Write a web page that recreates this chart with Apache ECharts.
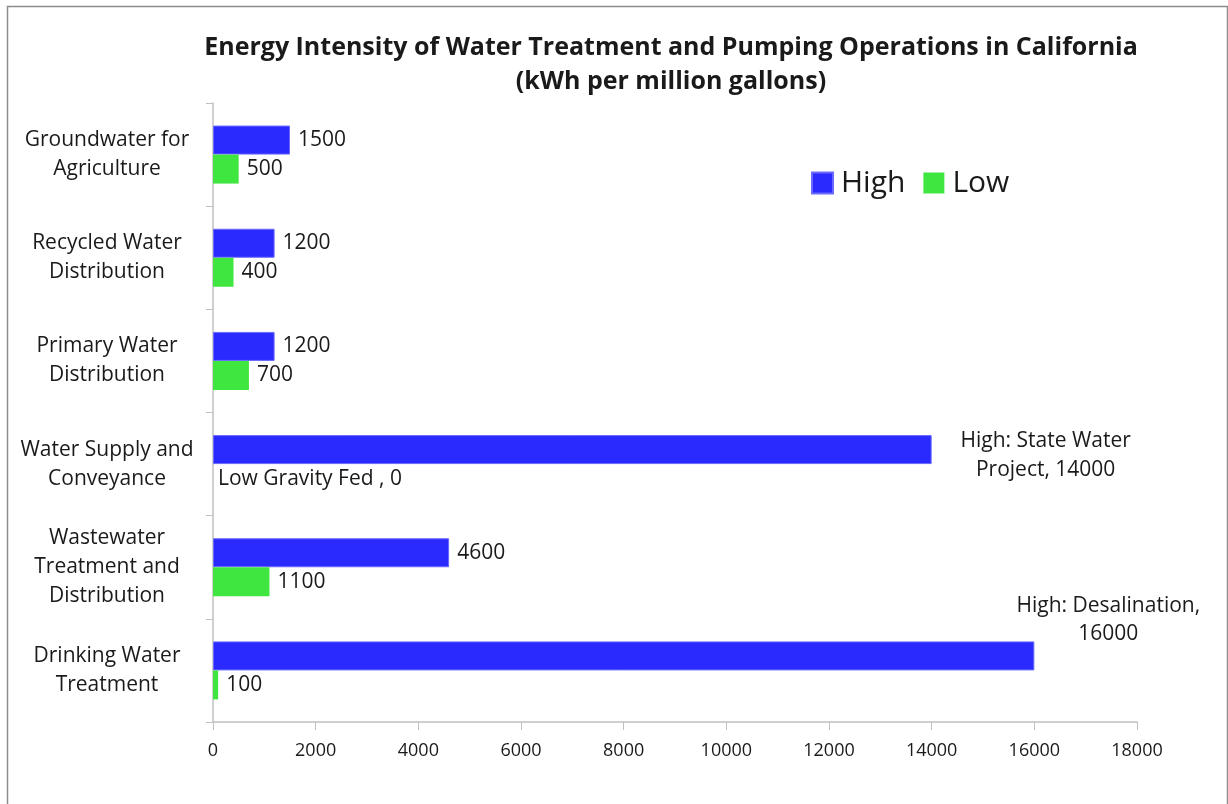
<!DOCTYPE html>
<html>
<head>
<meta charset="utf-8">
<script src="https://cdn.jsdelivr.net/npm/echarts@6/dist/echarts.min.js"></script>
<style>
    html, body { margin: 0; padding: 0; background: #fff; }
    #chart { width: 1228px; height: 804px; }
</style>
</head>
<body>
<div id="chart"></div>
<script>
// categories top to bottom
const categories = [
    'Groundwater for\nAgriculture',
    'Recycled Water\nDistribution',
    'Primary Water\nDistribution',
    'Water Supply and\nConveyance',
    'Wastewater\nTreatment and\nDistribution',
    'Drinking Water\nTreatment'
]
const highValues = [1500, 1200, 1200, 14000, 4600, 16000]
const lowValues = [500, 400, 700, 0, 1100, 100]
const xTicks = { min: 0, max: 18000, interval: 2000 }

const FONT = '"Open Sans", sans-serif'

const chart = echarts.init(document.getElementById('chart'))

const labelBase = {
    show: true,
    position: 'right',
    distance: 8,
    color: '#1a1a1a',
    fontSize: 21,
    fontFamily: FONT
}

const highData = highValues.map((v, i) => {
    if (i === 3) {
        return {
            value: v,
            label: {
                formatter: 'High: State Water\nProject, ' + v,
                align: 'center',
                distance: 0,
                offset: [114, 6],
                lineHeight: 29
            }
        }
    }
    if (i === 5) {
        return {
            value: v,
            label: {
                formatter: 'High: Desalination,\n' + v,
                align: 'center',
                distance: 0,
                offset: [74, -36],
                lineHeight: 28
            }
        }
    }
    return v
})

const lowData = lowValues.map((v, i) => {
    if (i === 3) {
        return { value: v, label: { formatter: 'Low Gravity Fed , ' + v, distance: 5 } }
    }
    return v
})

const option = {
    backgroundColor: '#fff',
    animation: false,
    textStyle: { fontFamily: FONT },
    title: {
        text: 'Energy Intensity of Water Treatment and Pumping Operations in California\n(kWh per million gallons)',
        left: 666,
        textAlign: 'center',
        top: 26,
        textStyle: {
            fontFamily: FONT,
            fontWeight: 'bold',
            fontSize: 25,
            lineHeight: 34,
            color: '#1a1a1a'
        }
    },
    legend: {
        left: 806,
        top: 163,
        itemWidth: 21,
        itemHeight: 21,
        itemGap: 18,
        icon: 'rect',
        data: ['High', 'Low'],
        textStyle: {
            fontFamily: FONT,
            fontSize: 30,
            color: '#1a1a1a',
            padding: [0, 0, 0, 3]
        }
    },
    grid: {
        left: 213,
        right: 91,
        top: 103,
        bottom: 82,
        containLabel: false
    },
    xAxis: {
        type: 'value',
        min: xTicks.min,
        max: xTicks.max,
        interval: xTicks.interval,
        splitLine: { show: false },
        axisLine: { show: true, lineStyle: { color: '#c0c0c0', width: 1.5 } },
        axisTick: { show: true, length: 8, lineStyle: { color: '#c0c0c0' } },
        axisLabel: {
            margin: 20,
            fontSize: 18,
            fontFamily: FONT,
            color: '#1a1a1a',
            formatter: v => String(v)
        }
    },
    yAxis: {
        type: 'category',
        inverse: true,
        data: categories,
        axisLine: { show: true, lineStyle: { color: '#c0c0c0', width: 1.5 } },
        axisTick: { show: true, length: 7, lineStyle: { color: '#c0c0c0' } },
        axisLabel: {
            margin: 106,
            align: 'center',
            fontSize: 21,
            lineHeight: 29,
            fontFamily: FONT,
            color: '#1a1a1a'
        }
    },
    series: [
        {
            name: 'High',
            type: 'bar',
            data: highData,
            barWidth: 29,
            barGap: '0%',
            itemStyle: { color: '#2a2aff', borderColor: '#6a6aff', borderWidth: 1 },
            label: labelBase
        },
        {
            name: 'Low',
            type: 'bar',
            data: lowData,
            barWidth: 29,
            itemStyle: { color: '#40e640' },
            label: labelBase
        }
    ],
    graphic: [
        {
            type: 'rect',
            left: 5,
            top: 4,
            shape: { width: 1220, height: 820 },
            style: { fill: null, stroke: '#8c8c8c', lineWidth: 1.5 },
            silent: true
        }
    ]
}

chart.setOption(option)
</script>
</body>
</html>
